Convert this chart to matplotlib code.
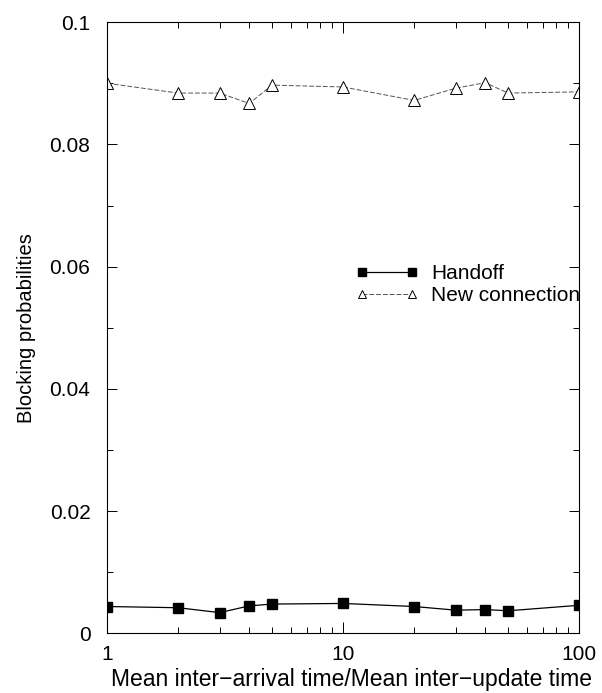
import matplotlib.pyplot as plt
from matplotlib.ticker import FixedLocator, MultipleLocator, NullFormatter

plt.rcParams["font.family"] = ["Liberation Sans", "DejaVu Sans"]

# ratio of mean inter-arrival time to mean inter-update time
ratio = [1, 2, 3, 4, 5, 10, 20, 30, 40, 50, 100]

handoff = [0.0044, 0.0042, 0.0034, 0.0045, 0.0048,
           0.0049, 0.0044, 0.0038, 0.0039, 0.0037, 0.0046]
new_conn = [0.0900, 0.0884, 0.0884, 0.0867, 0.0897,
            0.0894, 0.0872, 0.0892, 0.0901, 0.0884, 0.0886]

fig = plt.figure(figsize=(6.02, 6.93), dpi=100)
ax = fig.add_axes([0.178, 0.086, 0.784, 0.882])

ax.plot(ratio, handoff, color="black", lw=0.9, marker="s", ms=7,
        mfc="black", mec="black", label="Handoff")
ax.plot(ratio, new_conn, color="#555555", lw=0.7, ls=(0, (5, 2)),
        marker="^", ms=8, mfc="white", mec="black", mew=0.7,
        label="New connection")

ax.set_xscale("log")
ax.set_xlim(1, 100)
ax.set_ylim(0, 0.1)

ax.xaxis.set_major_locator(FixedLocator([1, 10, 100]))
ax.set_xticklabels(["1", "10", "100"])
ax.xaxis.set_minor_locator(FixedLocator([2, 3, 4, 5, 6, 7, 8, 9,
                                         20, 30, 40, 50, 60, 70, 80, 90]))
ax.xaxis.set_minor_formatter(NullFormatter())
ax.set_yticks([0, 0.02, 0.04, 0.06, 0.08, 0.1])
ax.set_yticklabels(["0", "0.02", "0.04", "0.06", "0.08", "0.1"])
ax.yaxis.set_minor_locator(MultipleLocator(0.01))

ax.tick_params(which="both", direction="in", top=True, right=True,
               width=0.7, labelsize=15)
ax.tick_params(axis="x", which="major", length=8, pad=8)
ax.tick_params(axis="y", which="major", length=7, pad=12)
ax.tick_params(which="minor", length=4)
for s in ax.spines.values():
    s.set_linewidth(0.8)

ax.set_xlabel("Mean inter\u2212arrival time/Mean inter\u2212update time",
              fontsize=16.5, labelpad=3)
ax.xaxis.label.set_x(0.517)
ax.set_ylabel("Blocking probabilities", fontsize=14.5, labelpad=10)

ax.legend(loc="upper left", bbox_to_anchor=(0.51, 0.618), frameon=False,
          fontsize=15, handlelength=3.0, handletextpad=0.6,
          labelspacing=0.15, numpoints=2, borderaxespad=0,
          markerscale=0.8)

fig.savefig("out.png", dpi=100)
